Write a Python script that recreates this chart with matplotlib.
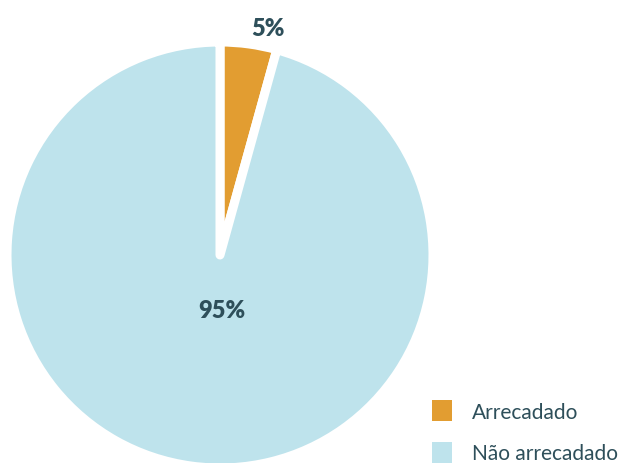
import matplotlib.pyplot as plt
from matplotlib.patches import Patch

labels = ["Arrecadado", "Não arrecadado"]
values = [4.3, 95.7]
pct_labels = ["5%", "95%"]
colors = ["#E29D31", "#BEE3EC"]
text_color = "#2E4F5A"

plt.rcParams['font.family'] = ['Source Sans Pro', 'Lato', 'DejaVu Sans']

fig = plt.figure(figsize=(6.2, 4.64), dpi=100)
ax = fig.add_axes([7 / 620, -5 / 464, 426 / 620, 426 / 464])

wedges, _ = ax.pie(values, colors=colors, startangle=90, counterclock=False,
                   radius=1.0, wedgeprops=dict(edgecolor="white", linewidth=6.5,
                                               joinstyle="round"))
for w in wedges:
    w.set_clip_on(False)
ax.set_xlim(-1, 1)
ax.set_ylim(-1, 1)
ax.set_aspect('auto')

ax.text(0.227, 1.065, pct_labels[0], ha="center", va="center",
        fontsize=17, fontweight="heavy", color=text_color)
ax.text(0.01, -0.257, pct_labels[1], ha="center", va="center",
        fontsize=17, fontweight="heavy", color=text_color)

handles = [Patch(facecolor=c, edgecolor="none") for c in colors]
fig.legend(handles, labels, loc="upper left", bbox_to_anchor=(432 / 620, 1 - 401 / 464),
           frameon=False, fontsize=15, labelcolor=text_color, borderpad=0,
           borderaxespad=0, handlelength=0.96, handleheight=1.2,
           handletextpad=0.96, labelspacing=0.95)

fig.savefig("out.png", dpi=100, facecolor="white")
